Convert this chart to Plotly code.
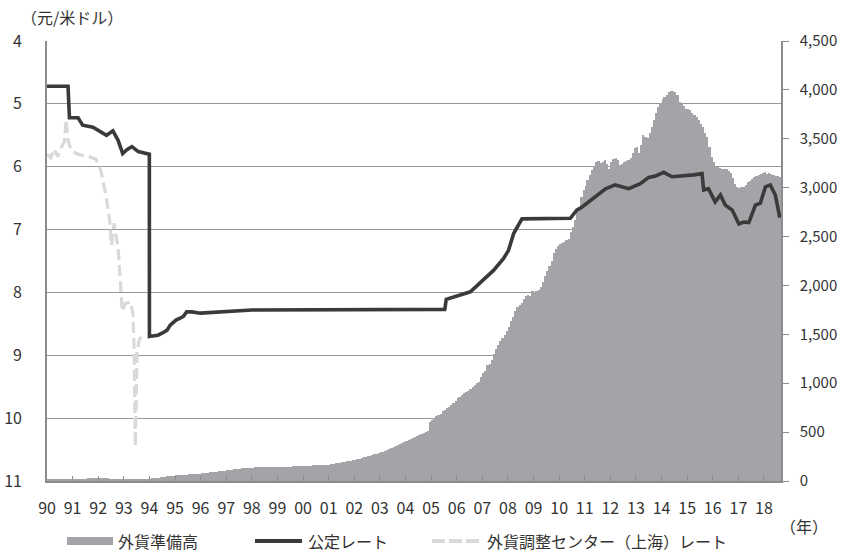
import pandas as pd
import plotly.graph_objects as go

# Foreign reserves, billion USD, monthly from Jan 1990 to Aug 2018
reserves = [
    13, 13, 14, 14, 15, 15, 16, 16, 17, 17, 18, 18,                      # 1990
    19, 20, 21, 22, 23, 24, 25, 26, 27, 28, 29, 30,                      # 1991
    30, 29, 28, 27, 26, 25, 24, 23, 22, 21, 20, 19,                      # 1992
    19, 19, 19, 20, 20, 20, 20, 20, 21, 21, 21, 22,                      # 1993
    24, 26, 29, 32, 35, 38, 41, 44, 47, 50, 53, 56,                      # 1994
    58, 60, 62, 63, 65, 66, 68, 69, 70, 72, 73, 75,                      # 1995
    77, 80, 83, 86, 89, 92, 94, 96, 98, 101, 104, 106,                   # 1996
    109, 112, 115, 118, 121, 124, 126, 128, 130, 132, 134, 137,          # 1997
    138, 139, 140, 140, 140, 140, 140, 141, 141, 141, 142, 143,          # 1998
    144, 145, 145, 146, 147, 147, 148, 149, 150, 151, 152, 154,          # 1999
    155, 156, 157, 158, 159, 160, 161, 162, 163, 164, 165, 166,          # 2000
    168, 172, 176, 180, 184, 188, 192, 196, 200, 204, 208, 212,          # 2001
    218, 224, 230, 236, 242, 248, 254, 260, 266, 272, 278, 284,          # 2002
    292, 300, 308, 316, 325, 335, 346, 356, 366, 378, 390, 403,          # 2003
    410, 420, 432, 442, 452, 462, 470, 480, 490, 500, 515, 600,          # 2004
    625, 642, 660, 675, 690, 711, 730, 745, 760, 775, 795, 819,          # 2005
    845, 855, 875, 895, 910, 925, 945, 960, 985, 1000, 1012, 1066,       # 2006
    1100, 1130, 1183, 1200, 1240, 1300, 1350, 1390, 1430, 1460, 1490, 1530,  # 2007
    1580, 1640, 1680, 1740, 1780, 1800, 1820, 1860, 1890, 1900, 1890, 1940,  # 2008
    1930, 1940, 1950, 1980, 2040, 2100, 2150, 2200, 2250, 2330, 2370, 2400,  # 2009
    2420, 2430, 2445, 2463, 2480, 2548, 2600, 2668, 2750, 2804, 2900, 2975,  # 2010
    3020, 3077, 3130, 3179, 3220, 3264, 3270, 3248, 3260, 3282, 3240, 3196,  # 2011
    3264, 3290, 3308, 3280, 3230, 3240, 3264, 3270, 3280, 3299, 3350, 3401,  # 2012
    3420, 3350, 3440, 3538, 3520, 3504, 3560, 3620, 3691, 3760, 3827, 3870,  # 2013
    3910, 3930, 3950, 3975, 3985, 3991, 3980, 3950, 3879, 3860, 3840, 3800,  # 2014
    3800, 3790, 3760, 3743, 3720, 3690, 3650, 3624, 3560, 3521, 3420, 3316,  # 2015
    3260, 3208, 3210, 3200, 3196, 3196, 3190, 3170, 3145, 3100, 3042, 3010,  # 2016
    3001, 3005, 3010, 3030, 3059, 3070, 3090, 3110, 3120, 3130, 3140, 3151,  # 2017
    3160, 3140, 3150, 3140, 3128, 3120, 3115, 3110,                          # 2018
]

# Official rate (CNY per USD)
official_dates = [
    "1990-01-01", "1990-10-28", "1990-11-17", "1991-03-20", "1991-05-25", "1991-10-18",
    "1992-04-29", "1992-07-29", "1992-10-11", "1992-12-16", "1993-02-14", "1993-04-26",
    "1993-07-26", "1993-12-31", "1994-01-01", "1994-05-01", "1994-07-15", "1994-09-10",
    "1994-10-25", "1995-01-15", "1995-03-15", "1995-05-01", "1995-06-15", "1995-09-01",
    "1995-12-30", "1996-06-01", "1996-12-01", "1997-06-01", "1998-01-01", "2005-07-15",
    "2005-08-05", "2006-02-20", "2006-07-15", "2007-01-15", "2007-03-10", "2007-06-10",
    "2007-11-01", "2008-01-10", "2008-03-25", "2008-07-20", "2010-06-10", "2010-09-10",
    "2010-11-25", "2011-05-05", "2011-10-25", "2012-03-10", "2012-09-20", "2013-03-05",
    "2013-07-01", "2013-10-05", "2014-02-01", "2014-05-30", "2014-11-15", "2015-04-05",
    "2015-08-01", "2015-08-25", "2015-11-01", "2016-02-05", "2016-04-20", "2016-06-28",
    "2016-10-05", "2017-01-08", "2017-03-18", "2017-05-30", "2017-09-01", "2017-11-10",
    "2018-01-22", "2018-04-01", "2018-06-12", "2018-08-15",
]
official_rate = [
    4.72, 4.72, 5.22, 5.22, 5.34, 5.37,
    5.50, 5.43, 5.58, 5.79, 5.73, 5.68,
    5.76, 5.80, 8.70, 8.68, 8.64, 8.60,
    8.52, 8.44, 8.41, 8.38, 8.31, 8.31,
    8.33, 8.32, 8.30, 8.29, 8.28, 8.27,
    8.11, 8.04, 7.99, 7.80, 7.75, 7.65,
    7.46, 7.33, 7.06, 6.83, 6.82, 6.69,
    6.64, 6.50, 6.35, 6.29, 6.35, 6.27,
    6.17, 6.15, 6.09, 6.16, 6.15, 6.13,
    6.11, 6.37, 6.35, 6.56, 6.45, 6.61,
    6.69, 6.91, 6.88, 6.89, 6.61, 6.58,
    6.32, 6.29, 6.45, 6.81,
]

# Shanghai swap centre rate (CNY per USD)
swap_dates = [
    "1990-01-01", "1990-02-25", "1990-04-12", "1990-06-02", "1990-07-20", "1990-09-05",
    "1990-10-01", "1990-10-27", "1990-12-13", "1991-03-13", "1991-05-25", "1991-08-25",
    "1991-12-01", "1992-02-05", "1992-04-20", "1992-06-13", "1992-07-08", "1992-08-15",
    "1992-10-12", "1992-11-10", "1992-12-10", "1993-01-22", "1993-04-01", "1993-05-12",
    "1993-05-28", "1993-06-14", "1993-07-08", "1993-08-07", "1993-09-10", "1993-11-02",
]
swap_rate = [
    5.80, 5.86, 5.72, 5.84, 5.70, 5.60,
    5.25, 5.58, 5.74, 5.80, 5.82, 5.84,
    5.88, 6.05, 6.45, 6.85, 7.25, 6.90,
    7.30, 7.80, 8.30, 8.18, 8.15, 8.34,
    8.95, 10.45, 8.95, 8.76, 8.70, 8.68,
]

# Year ticks 1990..2018, labelled with two digits
years = list(range(1990, 2019))

# ---- figure geometry (pixels) ----
W, H = 850, 555
L, R, T, B = 47, 781, 41, 481


def px(x):
    return (x - L) / (R - L)


def py(y):
    return (B - y) / (B - T)


TEXT = "#333333"
AXIS = "#8c8c8c"
FONT = "Noto Sans CJK JP"

month_start = pd.date_range("1990-01-01", periods=len(reserves), freq="MS")
month_len = (month_start + pd.offsets.MonthBegin(1)) - month_start
bar_x = month_start + month_len / 2
bar_w = [d.total_seconds() * 1000 for d in month_len]

fig = go.Figure()

fig.add_trace(go.Bar(
    x=bar_x, y=reserves, width=bar_w, yaxis="y",
    marker=dict(color="#a3a4a8", line=dict(width=0)),
    name="外貨準備高", showlegend=False,
))
fig.add_trace(go.Scatter(
    x=swap_dates, y=swap_rate, yaxis="y2", mode="lines",
    line=dict(color="#d9d9d9", width=3.2, dash="11px,5px"),
    name="外貨調整センター（上海）レート", showlegend=False,
))
fig.add_trace(go.Scatter(
    x=official_dates, y=official_rate, yaxis="y2", mode="lines",
    line=dict(color="#3a3a3a", width=3.6),
    name="公定レート", showlegend=False,
))

fig.update_layout(
    width=W, height=H,
    margin=dict(l=L, r=W - R, t=T, b=H - B, pad=0, autoexpand=False),
    paper_bgcolor="white", plot_bgcolor="white",
    font=dict(family=FONT, color=TEXT, size=15),
    bargap=0,
    xaxis=dict(
        type="date", range=["1990-01-01", "2018-09-01"], automargin=False,
        tickvals=[f"{y}-01-01" for y in years],
        ticktext=[f"{y % 100:02d}" for y in years],
        ticks="inside", ticklen=5, tickcolor=AXIS, tickwidth=1.2,
        showline=True, linecolor=AXIS, linewidth=1.6,
        showgrid=False, zeroline=False,
        tickfont=dict(size=16, color=TEXT), ticklabelstandoff=12,
    ),
    yaxis=dict(
        side="right", range=[0, 4500], dtick=500, tickformat=",",
        automargin=False,
        ticks="outside", ticklen=6, tickcolor=AXIS, tickwidth=1.2,
        showline=True, linecolor=AXIS, linewidth=1.6,
        showgrid=False, zeroline=False,
        tickfont=dict(size=15, color=TEXT), ticklabelstandoff=8,
    ),
    yaxis2=dict(
        overlaying="y", side="left", range=[11, 4], dtick=1,
        automargin=False,
        ticks="", showline=True, linecolor=AXIS, linewidth=1.6,
        showgrid=True, gridcolor="#989898", gridwidth=1.3, zeroline=False,
        tickfont=dict(size=16, color=TEXT), ticklabelstandoff=20,
    ),
)

# Unit labels
fig.add_annotation(x=px(19), y=py(17), xref="paper", yref="paper",
                   text="（元/米ドル）", showarrow=False, xanchor="left",
                   yanchor="middle", font=dict(size=16, color=TEXT))
fig.add_annotation(x=px(804), y=py(526), xref="paper", yref="paper",
                   text="（年）", showarrow=False, xanchor="center",
                   yanchor="middle", font=dict(size=16, color=TEXT))

# Legend row
LEG_Y = 541
fig.add_shape(type="rect", xref="paper", yref="paper",
              x0=px(67), x1=px(113), y0=py(LEG_Y + 4), y1=py(LEG_Y - 4),
              fillcolor="#a3a4a8", line=dict(width=0))
fig.add_shape(type="line", xref="paper", yref="paper",
              x0=px(255), x1=px(302), y0=py(LEG_Y), y1=py(LEG_Y),
              line=dict(color="#3a3a3a", width=4))
fig.add_shape(type="line", xref="paper", yref="paper",
              x0=px(432), x1=px(480), y0=py(LEG_Y), y1=py(LEG_Y),
              line=dict(color="#d9d9d9", width=4, dash="13px,4px"))
for x0, label in [(116, "外貨準備高"), (306, "公定レート"),
                  (485, "外貨調整センター（上海）レート")]:
    fig.add_annotation(x=px(x0), y=py(LEG_Y), xref="paper", yref="paper",
                       text=label, showarrow=False, xanchor="left",
                       yanchor="middle", font=dict(size=16, color=TEXT))

fig.write_html("out.html")
